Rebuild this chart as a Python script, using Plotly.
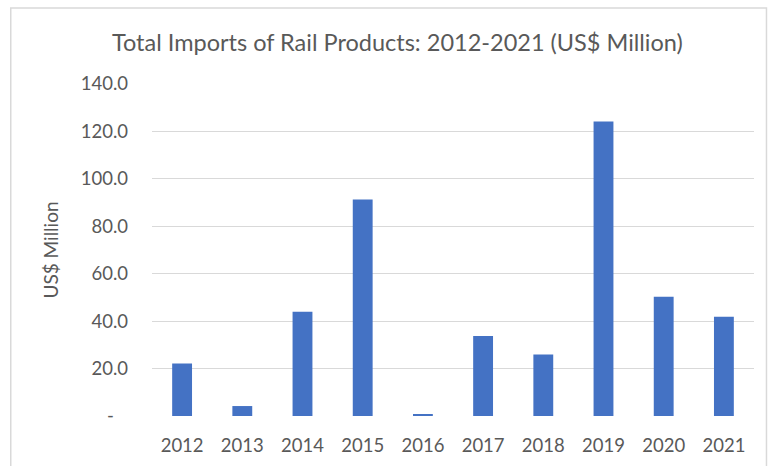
import plotly.graph_objects as go

# Annual import totals, US$ million
years = ["2012", "2013", "2014", "2015", "2016", "2017", "2018", "2019", "2020", "2021"]
imports_musd = [22.1, 4.2, 44.0, 91.3, 0.8, 33.7, 25.9, 124.2, 50.3, 41.9]

tick_vals = [0, 20, 40, 60, 80, 100, 120, 140]
tick_text = ["-\u00a0\u00a0\u00a0"] + [f"{v:.1f}" for v in tick_vals[1:]]

FONT = "Lato"
TEXT = "#595959"
GRID = "#D9D9D9"

W, H = 777, 466
L, R, T, B = 151.5, 22.5, 84, 49.7
pw, ph = W - L - R, H - T - B


def px_x(x):
    return (x - L) / pw


def px_y(y):
    return (H - B - y) / ph


fig = go.Figure(
    go.Bar(
        x=years,
        y=imports_musd,
        marker=dict(color="#4472C4", line=dict(width=0)),
        width=0.33,
    )
)

fig.update_layout(
    width=W,
    height=H,
    margin=dict(l=L, r=R, t=T, b=B),
    paper_bgcolor="white",
    plot_bgcolor="white",
    showlegend=False,
    font=dict(family=FONT, color=TEXT, size=18),
)

fig.update_xaxes(
    type="category",
    automargin=False,
    showgrid=False,
    showline=False,
    ticks="",
    tickfont=dict(family=FONT, size=18.5, color=TEXT),
    ticklabelstandoff=16,
)

fig.update_yaxes(
    range=[0, 140],
    automargin=False,
    tickvals=tick_vals,
    ticktext=tick_text,
    showgrid=True,
    gridcolor=GRID,
    gridwidth=1.3,
    zeroline=False,
    showline=False,
    ticks="",
    tickfont=dict(family=FONT, size=18.5, color=TEXT),
    ticklabelstandoff=23,
    title=dict(text="US$ Million", font=dict(family=FONT, size=19, color=TEXT), standoff=17),
)

# Title
fig.add_annotation(
    text="Total Imports of Rail Products: 2012-2021 (US$ Million)",
    xref="paper", yref="paper",
    x=px_x(397), y=px_y(42),
    xanchor="center", yanchor="middle",
    showarrow=False,
    font=dict(family=FONT, size=23.5, color=TEXT),
)

# Chart frame
fig.add_shape(
    type="rect",
    xref="paper", yref="paper",
    x0=px_x(10), x1=px_x(767), y0=px_y(500), y1=px_y(8),
    line=dict(color=GRID, width=1.5),
    fillcolor="rgba(0,0,0,0)",
    layer="below",
)

fig.write_html("out.html")
